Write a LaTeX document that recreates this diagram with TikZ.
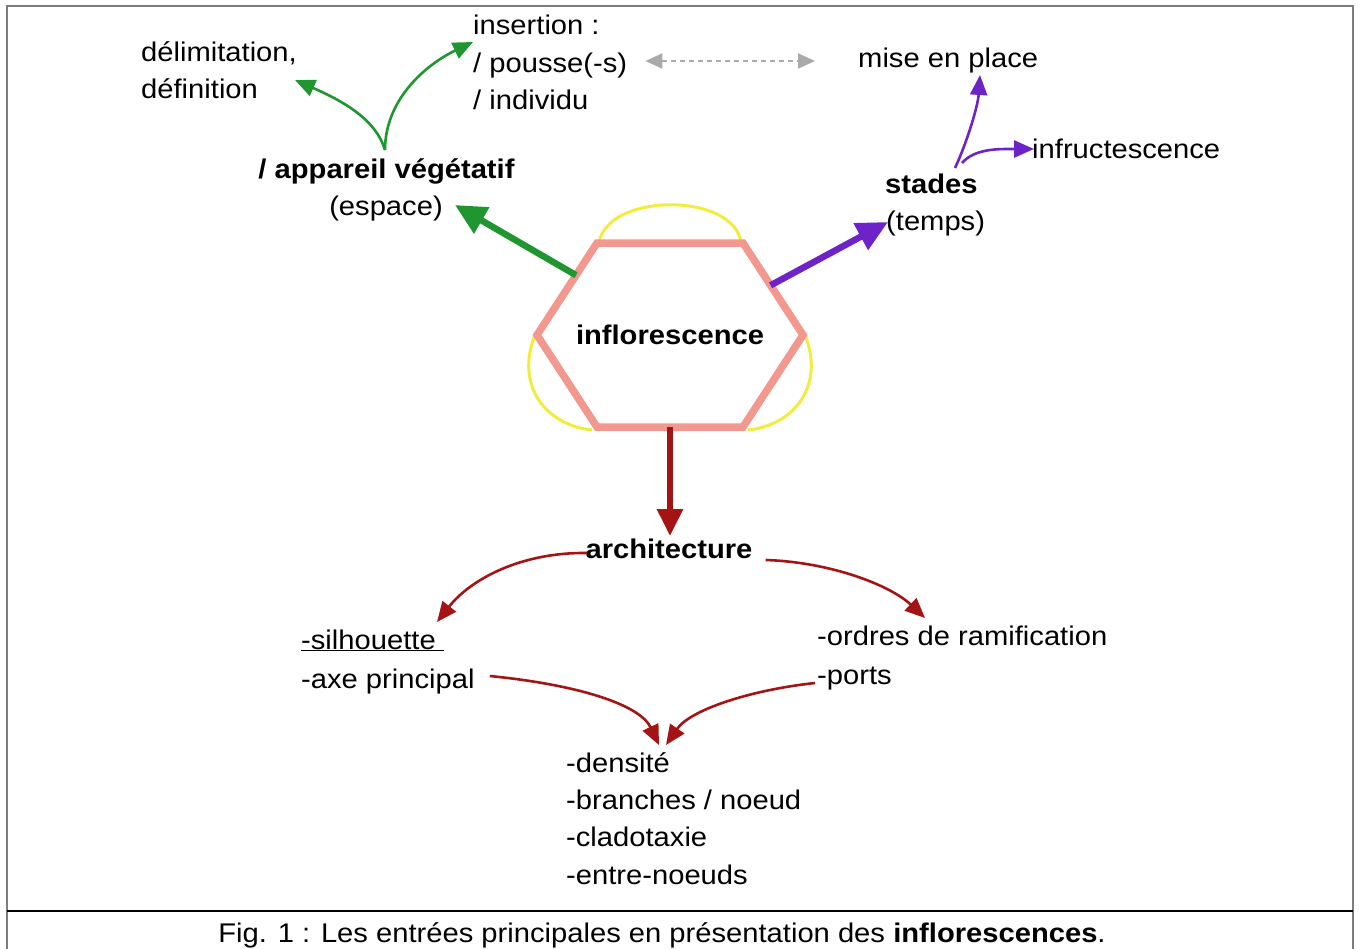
\documentclass[tikz,border=0pt]{standalone}
\usepackage{fontspec}
\setmainfont[FakeStretch=1.08]{Liberation Sans}
\usetikzlibrary{arrows.meta,calc}
\definecolor{framegray}{RGB}{125,125,125}
\definecolor{mygreen}{RGB}{32,150,48}
\definecolor{mypurple}{RGB}{110,35,200}
\definecolor{myred}{RGB}{165,20,20}
\definecolor{mysalmon}{RGB}{242,152,142}
\definecolor{myyellow}{RGB}{242,236,60}
\definecolor{mygray}{RGB}{170,170,170}
\tikzset{
  txt/.style={inner sep=0pt, anchor=base west, font=\fontsize{27}{37}\selectfont},
  ctxt/.style={txt, anchor=base},
  thick arrow/.style={line width=6.5pt, -{Triangle[length=31pt,width=29pt]}},
  thin arrow/.style={line width=2.6pt, -{Triangle[length=20pt,width=17pt]}},
}
\begin{document}
\begin{tikzpicture}[x=1pt,y=-1pt]
\useasboundingbox (0,0) rectangle (1359,948);
% frame
\draw[framegray, line width=2pt] (7,950) -- (7,6) -- (1353,6) -- (1353,950);
\draw[black, line width=1.5pt] (7,911) -- (1353,911);

% hexagon vertices
\coordinate (h1) at (597,243);
\coordinate (h2) at (743,243);
\coordinate (h3) at (803,335);
\coordinate (h4) at (743,427);
\coordinate (h5) at (597,427);
\coordinate (h6) at (537,335);
% yellow arcs
\draw[myyellow, line width=3pt] (599,243) .. controls (607,192) and (735,192) .. (741,243);
\draw[myyellow, line width=3pt] (535,335) .. controls (515,385) and (545,425) .. (592,430);
\draw[myyellow, line width=3pt] (805,335) .. controls (825,385) and (795,425) .. (748,430);
% hexagon
\draw[mysalmon, line width=7.5pt, line join=miter] (h1) -- (h2) -- (h3) -- (h4) -- (h5) -- (h6) -- cycle;

% texts
\node[txt] (ins1) at (473,34) {insertion :};
\node[txt] (ins2) at (473,72) {/ pousse(-s)};
\node[txt] (ins3) at (473,109) {/ individu};
\node[txt] (del1) at (141,61) {délimitation,};
\node[txt] (del2) at (141,98) {définition};
\node[ctxt] (app) at (386.5,178) {\bfseries / appareil végétatif};
\node[ctxt] (esp) at (386,215) {(espace)};
\node[txt] (mise) at (858,67) {mise en place};
\node[txt] (infr) at (1032,158) {infructescence};
\node[txt] (stades) at (885,193) {\bfseries stades};
\node[txt] (temps) at (886,230) {(temps)};
\node[ctxt] (inflo) at (670,344) {\bfseries inflorescence};
\node[ctxt] (archi) at (669,558) {\bfseries architecture};
\node[txt] (sil) at (301,649) {\underline{-silhouette\ }};
\node[txt] (axe) at (301,688) {-axe principal};
\node[txt] (ord) at (817,645) {-ordres de ramification};
\node[txt] (ports) at (817,684) {-ports};
\node[txt] (d1) at (566,772) {-densité};
\node[txt] (d2) at (566,809) {-branches / noeud};
\node[txt] (d3) at (566,846) {-cladotaxie};
\node[txt] (d4) at (566,884) {-entre-noeuds};
\node[ctxt] (cap) at (662,942) {Fig. 1 : Les entrées principales en présentation des \textbf{inflorescences}.};

% thick arrows from hexagon
\draw[mygreen, thick arrow] ($(h1)!0.35!(h6)$) -- ($(esp.base east)+(12,-10)$);
\draw[mypurple, thick arrow] ($(h2)!0.46!(h3)$) -- ($(temps.base west)+(2,-8)$);
\draw[myred, line width=6pt, -{Triangle[length=27pt,width=25pt]}] ($(h5)!0.5!(h4)$) -- ($(archi.base)+(1,-22)$);

% green thin
\draw[mygreen, thin arrow] ($(app.base)+(-1.5,-28)$) .. controls (376,120) and (345,102) .. ($(del1.base east)+(-2,19)$);
\draw[mygreen, thin arrow] ($(app.base)+(-1.5,-28)$) .. controls (385,100) and (425,65) .. ($(ins1.base west)+(0,8)$);

% gray dashed double arrow
\draw[mygray, line width=2pt, dash pattern=on 5pt off 4pt, {Triangle[length=17pt,width=15pt]}-{Triangle[length=17pt,width=15pt]}]
  ($(ins2.base east)+(18,-11)$) -- ($(mise.base west)+(-43,-6)$);

% purple thin
\draw[mypurple, thin arrow] ($(stades.base west)+(70,-25)$) .. controls (968,140) and (978,105) .. ($(mise.base west)+(122,8)$);
\draw[mypurple, thin arrow] ($(stades.base west)+(77,-30)$) .. controls (975,148) and (1000,149) .. ($(infr.base west)+(2,-9)$);

% red thin
\draw[myred, thin arrow] ($(archi.base west)+(2,-5)$) .. controls (520,552) and (470,580) .. ($(sil.base west)+(136,-27)$);
\draw[myred, thin arrow] ($(archi.base east)+(13,2)$) .. controls (830,562) and (890,585) .. ($(ord.base west)+(108,-27)$);
\draw[myred, thin arrow] ($(axe.base east)+(15,-12)$) .. controls (580,685) and (640,705) .. ($(d1.base west)+(93,-27)$);
\draw[myred, thin arrow] ($(ports.base west)+(-2,-1)$) .. controls (750,690) and (690,710) .. ($(d1.base west)+(100,-27)$);
\end{tikzpicture}
\end{document}
